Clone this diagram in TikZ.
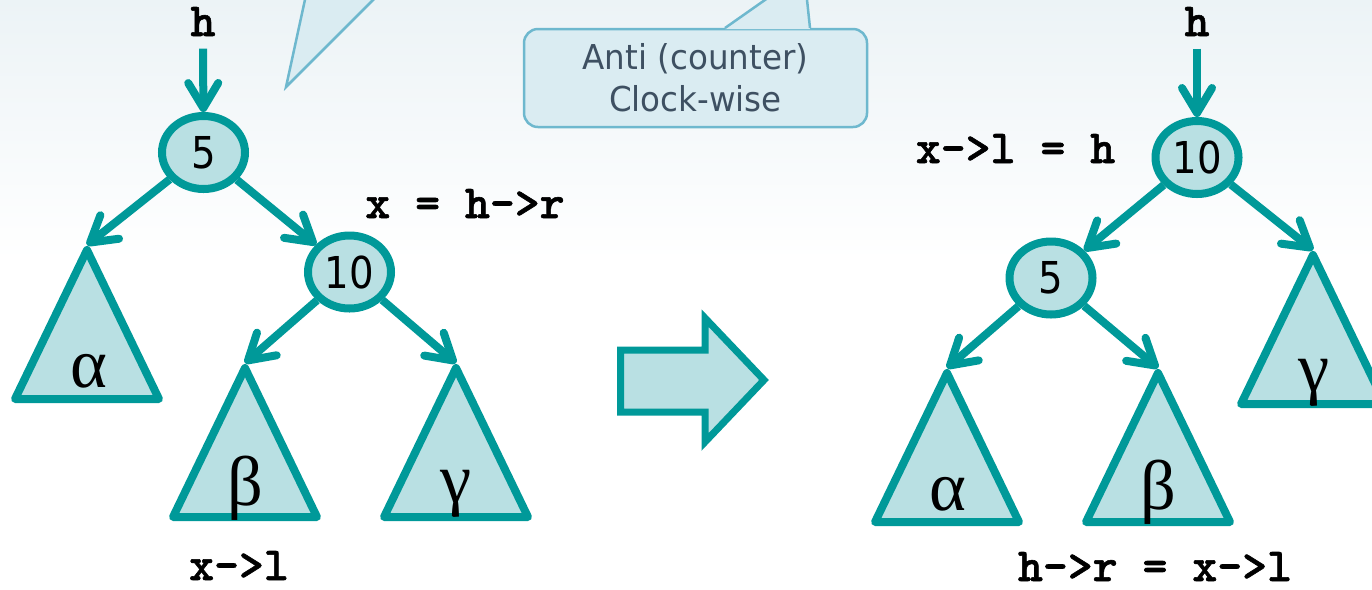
\documentclass[tikz,border=0pt]{standalone}
\usepackage{fontspec}
\usepackage{tikz}
\usetikzlibrary{arrows.meta,shapes.geometric}
\newfontfamily\keyfont[FakeStretch=0.88]{DejaVu Sans}
\newfontfamily\notefont[FakeStretch=0.95]{DejaVu Sans}
\newfontfamily\greekfont{Liberation Serif}
\newfontfamily\codefont{lmmonolt10-bold}[Extension=.otf, FakeBold=1.2]
\definecolor{treeline}{RGB}{0,153,153}
\definecolor{treefill}{RGB}{185,224,227}
\definecolor{notefill}{RGB}{218,236,242}
\definecolor{noteline}{RGB}{110,184,206}
\definecolor{notetext}{RGB}{62,80,98}
\definecolor{bgtop}{RGB}{236,243,246}

\begin{document}
\begin{tikzpicture}[
  x=0.2mm, y=-0.2mm,
  key/.style={draw=treeline, fill=treefill, line width=1.6mm, ellipse,
    minimum width=16.6mm, minimum height=14.6mm, inner sep=0pt,
    font=\keyfont\fontsize{25}{30}\selectfont},
  subtree/.style={draw=treeline, fill=treefill, line width=1.6mm, line join=round},
  sym/.style={inner sep=0pt, font=\greekfont\fontsize{40}{44}\selectfont},
  code/.style={anchor=base, inner sep=7pt, font=\codefont\fontsize{27}{30}\selectfont},
  flow/.style={draw=treeline, line width=1.6mm,
    -{Straight Barb[length=5mm, width=6mm, round]}},
  note/.style={draw=noteline, fill=notefill, line width=0.5mm, rounded corners=2.8mm,
    minimum width=68.6mm, minimum height=19.6mm, align=center, text=notetext,
    font=\notefont\fontsize{19.5}{24}\selectfont},
  bigarrow/.style={draw=treeline, fill=treefill, line width=1.4mm}
]
\useasboundingbox (0,0) rectangle (1372,589);
\clip (0,0) rectangle (1372,589);
\shade[top color=bgtop, bottom color=white] (0,0) rectangle (1372,260);

% callouts
\fill[notefill] (286,87) -- (306,-5) -- (378,-5) -- cycle;
\draw[noteline, line width=0.5mm] (306,-5) -- (286,87) -- (378,-5);
\node[note] (turn) at (695.5,78) {Anti (counter)\\Clock-wise};
\fill[notefill] (725,29) -- (772,-5) -- (806.5,-5) -- (810,29) -- cycle;
\draw[noteline, line width=0.5mm] (725,28) -- (772,-5);
\draw[noteline, line width=0.5mm] (806.5,-5) -- (810,28);

% before rotation
\node[code] (hL) at (203,36) {h};
\node[key] (fiveL) at (203.5,152.5) {5};
\node[key] (tenL) at (349.5,272) {10};
\node[code] (xL) at (465,218) {x = h->r};
\node[code] (xlL) at (239,580) {x->l};
\coordinate (alphaL) at (87,245);
\coordinate (betaL) at (245,363);
\coordinate (gammaL) at (456,363);
\draw[subtree] (alphaL) ++(0,5) -- ++(-72,149) -- ++(144,0) -- cycle;
\draw[subtree] (betaL) ++(0,5) -- ++(-72,149) -- ++(144,0) -- cycle;
\draw[subtree] (gammaL) ++(0,5) -- ++(-72,149) -- ++(144,0) -- cycle;
\node[sym] (aL) at (89,371) {α};
\node[sym] (bL) at (245,488) {β};
\node[sym] (cL) at (456,494) {γ};
\draw[flow] (hL) -- (fiveL);
\draw[flow] (fiveL) -- (alphaL);
\draw[flow] (fiveL) -- (tenL);
\draw[flow] (tenL) -- (betaL);
\draw[flow] (tenL) -- (gammaL);

% rotate
\draw[bigarrow] (620.5,350) -- (705,350) -- (705,318) -- (764,380)
  -- (705,442) -- (705,412) -- (620.5,412) -- cycle;

% after rotation
\node[code] (hR) at (1197,36) {h};
\node[key] (tenR) at (1197,157.5) {10};
\node[key] (fiveR) at (1051,278) {5};
\node[code] (xR) at (1015.5,163) {x->l = h};
\node[code] (hrR) at (1155,581) {h->r = x->l};
\coordinate (alphaR) at (947,368);
\coordinate (betaR) at (1158,368);
\coordinate (gammaR) at (1313,250);
\draw[subtree] (alphaR) ++(0,5) -- ++(-72,149) -- ++(144,0) -- cycle;
\draw[subtree] (betaR) ++(0,5) -- ++(-72,149) -- ++(144,0) -- cycle;
\draw[subtree] (gammaR) ++(0,5) -- ++(-72,149) -- ++(144,0) -- cycle;
\node[sym] (aR) at (948,494) {α};
\node[sym] (bR) at (1158.5,492) {β};
\node[sym] (cR) at (1314,383) {γ};
\draw[flow] (hR) -- (tenR);
\draw[flow] (tenR) -- (fiveR);
\draw[flow] (tenR) -- (gammaR);
\draw[flow] (fiveR) -- (alphaR);
\draw[flow] (fiveR) -- (betaR);
\end{tikzpicture}
\end{document}
